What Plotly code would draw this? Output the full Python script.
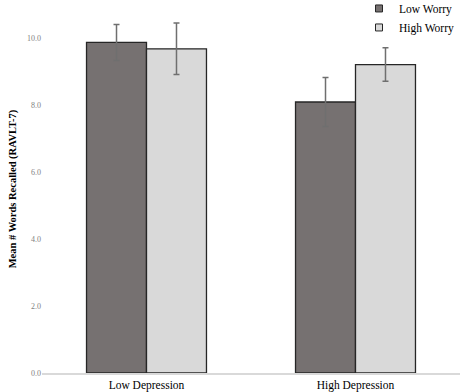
import plotly.graph_objects as go

categories = ["Low Depression", "High Depression"]
low_worry = [9.88, 8.10]
low_worry_err = [0.54, 0.73]
high_worry = [9.69, 9.22]
high_worry_err = [0.77, 0.50]
y_ticks = [0, 2, 4, 6, 8, 10]
y_tick_labels = ["0.0", "2.0", "4.0", "6.0", "8.0", "10.0"]

serif = "Liberation Serif"
dark = "#767171"
light = "#d9d9d9"

fig = go.Figure()
fig.add_trace(go.Bar(
    name="Low Worry", x=categories, y=low_worry, showlegend=False,
    marker=dict(color=dark, line=dict(color="#262626", width=1.3)),
    error_y=dict(type="data", array=low_worry_err, color="#6f6f6f", thickness=1.5, width=3),
))
fig.add_trace(go.Bar(
    name="High Worry", x=categories, y=high_worry, showlegend=False,
    marker=dict(color=light, line=dict(color="#262626", width=1.3)),
    error_y=dict(type="data", array=high_worry_err, color="#6f6f6f", thickness=1.5, width=3),
))
# legend swatches
for nm, col in [("Low Worry", dark), ("High Worry", light)]:
    fig.add_trace(go.Scatter(
        name=nm, x=[None], y=[None], mode="markers",
        marker=dict(symbol="square", size=7, color=col, line=dict(color="#262626", width=1)),
    ))

fig.update_layout(
    width=461, height=392,
    margin=dict(l=42, r=1, t=5, b=19, autoexpand=False),
    paper_bgcolor="white", plot_bgcolor="white",
    barmode="group", bargap=0.426, bargroupgap=0,
    font=dict(family=serif, color="#000000"),
    showlegend=True,
    legend=dict(x=1.0, xanchor="right", y=1.03, yanchor="top",
                font=dict(family=serif, size=11.5, color="#000"),
                bgcolor="rgba(0,0,0,0)", itemwidth=30, tracegroupgap=0),
    xaxis=dict(showgrid=False, showline=True, linecolor="#d9d9d9", linewidth=1.5,
               tickfont=dict(family=serif, size=11.5, color="#000"), ticks=""),
    yaxis=dict(range=[0, 11], showgrid=False, zeroline=False, showline=False,
               tickvals=y_ticks, ticktext=y_tick_labels,
               tickfont=dict(family=serif, size=8, color="#7f7f7f"), ticks="",
               title=dict(text="<b>Mean # Words Recalled (RAVLT-7)</b>",
                          font=dict(family=serif, size=10.5, color="#000"), standoff=8)),
)

fig.write_html("out.html", config={"displayModeBar": False},
               post_script="document.body.style.margin='0';")
